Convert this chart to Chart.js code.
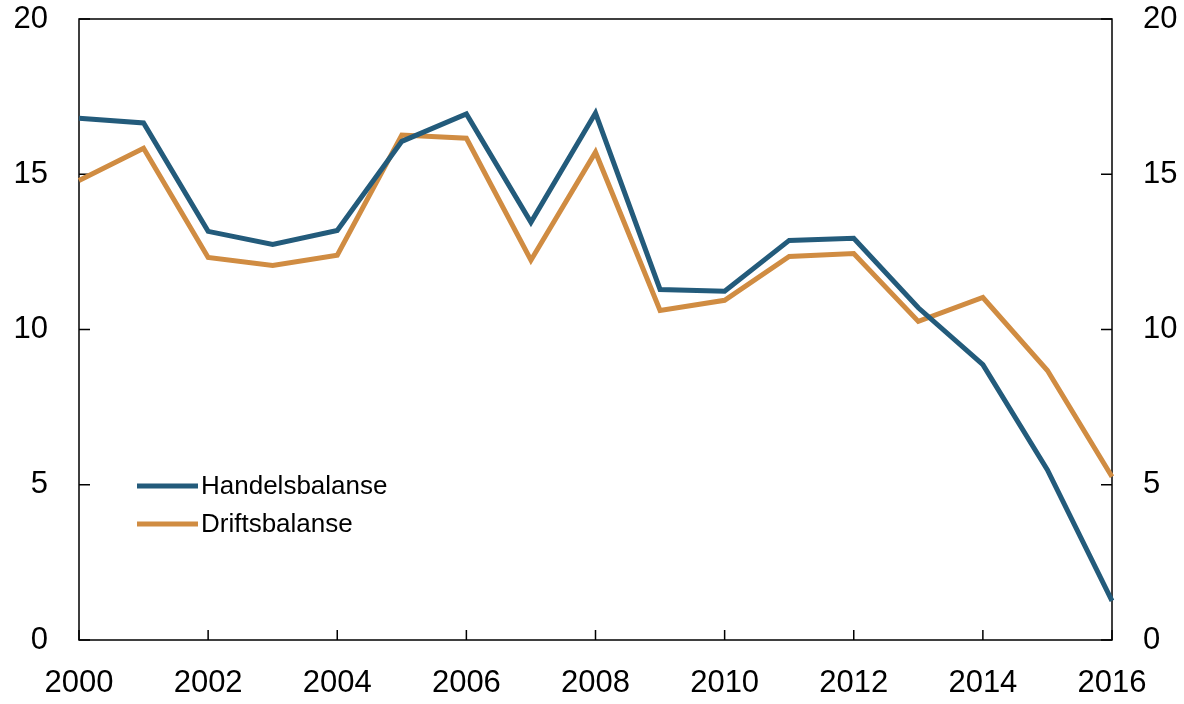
<!DOCTYPE html>
<html lang="no">
<head>
    <meta charset="UTF-8">
    <title>Handelsbalanse og driftsbalanse</title>
    <script src="https://cdn.jsdelivr.net/npm/chart.js"></script>
    <style>
        html, body { margin: 0; padding: 0; background: #fff; }
        canvas { display: block; }
    </style>
</head>
<body>
    <canvas id="balanceChart" width="1184" height="704"></canvas>
    <script>
        const years = ['2000', '2001', '2002', '2003', '2004', '2005', '2006', '2007', '2008',
                       '2009', '2010', '2011', '2012', '2013', '2014', '2015', '2016'];
        const handelsbalanse = [16.8, 16.65, 13.16, 12.74, 13.19, 16.06, 16.94, 13.45, 16.97,
                                11.29, 11.23, 12.87, 12.94, 10.7, 8.87, 5.48, 1.26];
        const driftsbalanse = [14.8, 15.84, 12.32, 12.06, 12.39, 16.26, 16.16, 12.23, 15.71,
                               10.61, 10.94, 12.35, 12.45, 10.26, 11.03, 8.68, 5.26];
        const seriesNames = ['Handelsbalanse', 'Driftsbalanse'];
        const yTicks = [0, 5, 10, 15, 20];

        const FONT = '"Liberation Sans", Arial, Helvetica, sans-serif';
        const BLUE = '#235b7b';
        const ORANGE = '#d08c42';

        // frame around the plot plus inward tick marks
        const framePlugin = {
            id: 'frame',
            beforeDatasetsDraw(chart) {
                const ctx = chart.ctx;
                const a = chart.chartArea;
                const x = chart.scales.x;
                const y = chart.scales.y;
                ctx.save();
                ctx.strokeStyle = '#000';
                ctx.lineWidth = 1.5;
                ctx.strokeRect(a.left, a.top, a.right - a.left, a.bottom - a.top);
                ctx.beginPath();
                yTicks.forEach(v => {
                    const py = y.getPixelForValue(v);
                    ctx.moveTo(a.left, py);
                    ctx.lineTo(a.left + 11, py);
                    ctx.moveTo(a.right, py);
                    ctx.lineTo(a.right - 11, py);
                });
                years.forEach((yr, i) => {
                    if (i % 2 === 0) {
                        const px = x.getPixelForValue(i);
                        ctx.moveTo(px, a.bottom);
                        ctx.lineTo(px, a.bottom - 10);
                    }
                });
                ctx.stroke();
                ctx.restore();
            }
        };

        // legend drawn inside the plot, bottom left
        const legendPlugin = {
            id: 'innerLegend',
            afterDatasetsDraw(chart) {
                const ctx = chart.ctx;
                ctx.save();
                ctx.font = '26px ' + FONT;
                ctx.textBaseline = 'middle';
                ctx.fillStyle = '#000';
                chart.data.datasets.forEach((ds, i) => {
                    const ly = 486 + i * 38;
                    ctx.strokeStyle = ds.borderColor;
                    ctx.lineWidth = 5;
                    ctx.beginPath();
                    ctx.moveTo(137, ly);
                    ctx.lineTo(198, ly);
                    ctx.stroke();
                    ctx.fillText(ds.label, 201, ly + 1);
                });
                ctx.restore();
            }
        };

        const tickFont = { family: FONT, size: 31 };

        // fixed axis sizes; drop the label padding chart.js adds above/below y axes
        function fixY(width) {
            return s => {
                s.width = width;
                s.paddingTop = 0;
                s.paddingBottom = 0;
            };
        }

        new Chart(document.getElementById('balanceChart').getContext('2d'), {
            type: 'line',
            data: {
                labels: years,
                datasets: [
                    {
                        label: seriesNames[0],
                        data: handelsbalanse,
                        borderColor: BLUE,
                        borderWidth: 5,
                        pointRadius: 0,
                        tension: 0,
                        borderJoinStyle: 'miter',
                        yAxisID: 'y'
                    },
                    {
                        label: seriesNames[1],
                        data: driftsbalanse,
                        borderColor: ORANGE,
                        borderWidth: 5,
                        pointRadius: 0,
                        tension: 0,
                        borderJoinStyle: 'miter',
                        yAxisID: 'y'
                    }
                ]
            },
            options: {
                responsive: false,
                animation: false,
                layout: { padding: { top: 19, left: 0, right: 0, bottom: 0 } },
                plugins: {
                    legend: { display: false },
                    tooltip: { enabled: false }
                },
                scales: {
                    x: {
                        offset: false,
                        grid: { display: false, drawTicks: false },
                        border: { display: false },
                        ticks: {
                            font: tickFont,
                            color: '#000',
                            padding: 25,
                            autoSkip: false,
                            maxRotation: 0,
                            callback: (v, i) => (i % 2 === 0 ? years[i] : '')
                        },
                        afterFit: s => { s.height = 64; }
                    },
                    y: {
                        position: 'left',
                        min: 0,
                        max: 20,
                        grid: { display: false, drawTicks: false },
                        border: { display: false },
                        ticks: { stepSize: 5, font: tickFont, color: '#000', padding: 31 },
                        afterFit: fixY(79)
                    },
                    y2: {
                        position: 'right',
                        min: 0,
                        max: 20,
                        grid: { display: false, drawTicks: false },
                        border: { display: false },
                        ticks: { stepSize: 5, font: tickFont, color: '#000', padding: 31 },
                        afterFit: fixY(72)
                    }
                }
            },
            plugins: [framePlugin, legendPlugin]
        });
    </script>
</body>
</html>
